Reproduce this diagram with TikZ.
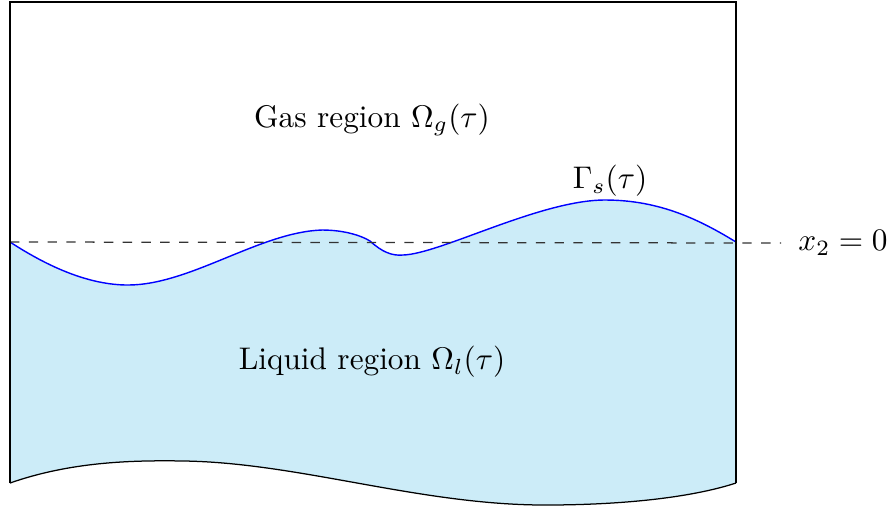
\documentclass[tikz,border=0pt]{standalone}
\usepackage{amsmath}
\usepackage{tikz}

\definecolor{liquidblue}{RGB}{204,236,248}

\begin{document}
\begin{tikzpicture}[x=0.01123cm,y=-0.01123cm]
  \useasboundingbox (0,0) rectangle (889,508);
  \def\surface{(10,242) .. controls (50,268) and (90,285) .. (128,285)
    .. controls (190,285) and (260,232) .. (322,230)
    .. controls (345,230) and (362,236) .. (370,241)
    .. controls (382,252) and (392,256) .. (403,255)
    .. controls (440,254) and (540,200) .. (605,200)
    .. controls (660,200) and (700,220) .. (736,242)}
  % liquid
  \fill[liquidblue] \surface -- (736,483)
    .. controls (690,498) and (620,505) .. (545,505)
    .. controls (420,505) and (300,463) .. (185,461)
    .. controls (130,460) and (70,462) .. (10,483) -- cycle;
  % interface and reference line
  \draw[blue, line width=0.45pt] \surface;
  \node (xlab) at (843,243) {$x_2=0$};
  \coordinate (dl) at (10,242);
  \draw[dashed, line width=0.4pt, black!80] (dl) -- ([xshift=-2pt]xlab.west);
  % container
  \draw[line width=0.6pt] (10,483) -- (10,2) -- (736,2) -- (736,483);
  \draw[line width=0.4pt] (736,483)
    .. controls (690,498) and (620,505) .. (545,505)
    .. controls (420,505) and (300,463) .. (185,461)
    .. controls (130,460) and (70,462) .. (10,483);
  % labels
  \node (gas) at (372,120) {Gas region $\Omega_g(\tau)$};
  \node (liq) at (372,362) {Liquid region $\Omega_l(\tau)$};
  \node (gam) at (610,181) {$\Gamma_s(\tau)$};
\end{tikzpicture}
\end{document}
